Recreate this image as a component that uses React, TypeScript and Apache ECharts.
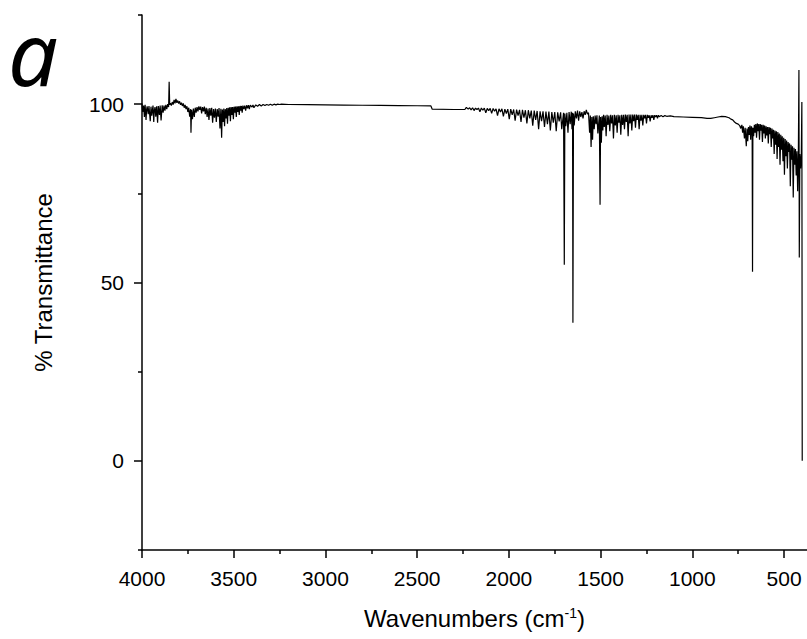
import React, { useEffect, useRef } from "react";
import * as echarts from "echarts";

const FONT = '"Liberation Sans", Arial, sans-serif';

// Wavenumber tick values (cm-1)
const xMajorTicks = [500, 1000, 1500, 2000, 2500, 3000, 3500, 4000];
const xMinorTicks = [750, 1250, 1750, 2250, 2750, 3250, 3750];
const yMajorTicks = [0, 50, 100];
const yMinorTicks = [-25, 25, 75, 125];

// Spectrum: [wavenumber, % transmittance]
const regionOH: [number, number][] = [
  [4000, 100.2], [3996, 97.8], [3991, 99.6], [3987, 96.4], [3983, 99.8], [3978, 95.6],
  [3975, 98.4], [3972, 99.4], [3966, 97.2], [3962, 99.5], [3955, 95.2], [3951, 99.3],
  [3947, 96.8], [3940, 99.6], [3936, 95.0], [3933, 98.2], [3929, 99.2], [3925, 96.5],
  [3920, 99.4], [3915, 94.8], [3911, 99.5], [3905, 97.0], [3901, 99.6], [3896, 95.4],
  [3890, 99.7], [3885, 97.6], [3880, 99.6], [3875, 98.2], [3870, 99.8], [3865, 98.6],
  [3860, 100.0], [3855, 99.2], [3852, 106.3], [3849, 99.8], [3845, 100.3], [3840, 99.6],
  [3835, 100.6], [3830, 99.9], [3825, 101.2], [3820, 100.2], [3815, 101.5], [3810, 100.4],
  [3805, 101.0], [3800, 100.2], [3795, 100.8], [3790, 99.8], [3785, 100.4], [3780, 99.5],
  [3775, 100.2], [3770, 99.0], [3765, 99.8], [3760, 98.6], [3755, 99.4], [3750, 97.8],
  [3745, 99.0], [3740, 96.5], [3735, 98.6], [3733, 92.0], [3730, 98.4], [3725, 95.8],
  [3720, 98.8], [3715, 96.4], [3710, 99.0], [3705, 97.6], [3700, 99.2], [3695, 98.0],
  [3690, 99.4], [3685, 98.4], [3680, 99.3], [3675, 97.4], [3670, 99.2], [3665, 98.0],
  [3660, 99.3], [3655, 97.2], [3650, 99.0], [3645, 96.4], [3640, 98.8], [3635, 95.6],
  [3630, 98.9], [3625, 96.8], [3620, 99.0], [3615, 94.8], [3610, 98.6], [3605, 96.2],
  [3600, 98.8], [3595, 95.0], [3590, 98.6], [3585, 96.5], [3580, 98.9], [3575, 93.2],
  [3570, 98.7], [3566, 90.6], [3562, 98.5], [3558, 95.0], [3554, 98.8], [3550, 93.8],
  [3546, 98.6], [3542, 96.0], [3538, 98.9], [3534, 94.5], [3530, 99.0], [3526, 96.8],
  [3522, 99.1], [3518, 95.2], [3514, 99.2], [3510, 97.0], [3506, 99.2], [3502, 95.8],
  [3498, 99.3], [3494, 97.6], [3490, 99.3], [3486, 96.4], [3482, 99.4], [3478, 97.8],
  [3474, 99.4], [3470, 97.0], [3466, 99.5], [3462, 98.2], [3458, 99.5], [3454, 97.6],
  [3450, 99.6], [3445, 98.6], [3440, 99.6], [3435, 98.2], [3430, 99.7], [3425, 98.8],
  [3420, 99.7], [3415, 98.6], [3410, 99.7], [3400, 99.2], [3395, 99.8], [3390, 99.0],
  [3380, 99.8], [3370, 99.4], [3360, 99.9], [3350, 99.5], [3340, 99.9], [3330, 99.6],
  [3320, 99.9], [3310, 99.7], [3300, 100.0], [3290, 99.7], [3280, 100.0], [3270, 99.8],
  [3260, 100.0], [3250, 99.9], [3240, 100.0],
];

const regionFlat: [number, number][] = [
  [3200, 99.9], [3100, 99.85], [3000, 99.8], [2900, 99.75], [2800, 99.7], [2700, 99.65],
  [2600, 99.6], [2500, 99.55], [2425, 99.5], [2418, 98.6], [2300, 98.5], [2240, 98.5],
];

const regionCarbonyl: [number, number][] = [
  [2232, 99.1], [2222, 98.6], [2214, 99.0], [2206, 98.4], [2198, 99.0], [2190, 98.2],
  [2182, 98.9], [2174, 98.5], [2166, 98.9], [2158, 97.9], [2150, 98.9], [2142, 98.3],
  [2134, 98.9], [2126, 97.6], [2118, 98.8], [2110, 98.2], [2102, 98.8], [2094, 97.4],
  [2086, 98.8], [2078, 98.0], [2070, 98.7], [2062, 96.8], [2054, 98.7], [2046, 97.8],
  [2038, 98.7], [2030, 96.6], [2022, 98.6], [2014, 97.4], [2006, 98.6], [1998, 95.8],
  [1990, 98.6], [1982, 97.0], [1974, 98.5], [1966, 95.4], [1958, 98.5], [1950, 96.8],
  [1942, 98.4], [1934, 95.0], [1926, 98.4], [1918, 96.2], [1910, 98.3], [1902, 94.6],
  [1894, 98.3], [1886, 96.0], [1878, 98.2], [1870, 94.0], [1862, 98.2], [1854, 95.6],
  [1846, 98.1], [1838, 93.0], [1830, 98.0], [1822, 95.2], [1814, 98.0], [1806, 93.6],
  [1798, 97.9], [1790, 94.4], [1782, 97.9], [1774, 92.6], [1766, 97.8], [1758, 94.8],
  [1750, 97.8], [1742, 92.4], [1734, 97.7], [1726, 95.2], [1718, 97.7], [1712, 93.0],
  [1702, 97.6], [1698, 55.0], [1695, 97.4], [1690, 93.8], [1684, 97.6], [1678, 92.0],
  [1672, 97.8], [1666, 94.4], [1660, 97.9], [1656, 93.0], [1653, 97.6], [1651, 38.7],
  [1648, 97.4], [1644, 94.0], [1638, 98.0], [1632, 96.0], [1626, 98.2], [1620, 95.4],
  [1614, 98.0], [1608, 96.4], [1602, 97.8], [1596, 96.0], [1590, 98.0], [1584, 97.0],
  [1578, 98.4], [1572, 97.2], [1566, 97.6],
];

const regionFingerprint: [number, number][] = [
  [1560, 92.0], [1556, 96.8], [1552, 88.0], [1548, 96.4], [1544, 90.0], [1540, 96.6],
  [1535, 93.0], [1530, 96.8], [1525, 94.4], [1520, 96.9], [1515, 91.8], [1507, 96.8],
  [1503, 71.8], [1500, 96.4], [1496, 89.2], [1492, 96.6], [1488, 92.6], [1484, 97.0],
  [1480, 93.6], [1475, 96.8], [1470, 91.0], [1465, 97.0], [1460, 94.2], [1455, 96.8],
  [1450, 92.4], [1445, 97.0], [1440, 94.6], [1435, 96.9], [1430, 90.4], [1425, 97.0],
  [1420, 94.0], [1415, 96.9], [1410, 92.0], [1405, 97.0], [1400, 94.8], [1395, 96.9],
  [1390, 91.4], [1385, 97.0], [1380, 94.2], [1375, 97.0], [1370, 93.0], [1365, 97.1],
  [1360, 95.0], [1355, 97.0], [1350, 91.0], [1345, 97.1], [1340, 94.6], [1335, 97.1],
  [1330, 92.6], [1325, 97.1], [1320, 95.2], [1315, 97.1], [1310, 93.4], [1305, 97.1],
  [1300, 95.6], [1295, 97.0], [1290, 93.0], [1285, 97.0], [1280, 95.4], [1275, 97.0],
  [1270, 94.0], [1265, 97.0], [1260, 96.0], [1255, 97.0], [1250, 94.6], [1245, 97.0],
  [1240, 96.2], [1235, 96.9], [1230, 95.2], [1225, 96.9], [1220, 96.2], [1215, 96.9],
  [1210, 95.6], [1205, 96.9], [1200, 96.4], [1195, 96.9], [1190, 96.0], [1185, 96.9],
  [1180, 96.5], [1170, 96.8], [1160, 96.5], [1150, 96.8], [1140, 96.6], [1120, 96.7],
  [1100, 96.5], [1050, 96.4], [1000, 96.3], [950, 96.2], [920, 96.0], [900, 96.0],
  [880, 96.2], [860, 96.4], [840, 96.6], [820, 96.5], [800, 96.2], [790, 95.8],
  [780, 95.6], [770, 95.0], [760, 94.6], [750, 94.4],
];

const regionLowWn: [number, number][] = [
  [742, 94.0], [736, 93.2], [730, 94.2], [726, 92.0], [722, 93.8], [716, 90.4],
  [712, 93.4], [706, 88.2], [702, 93.2], [698, 89.6], [694, 93.6], [690, 91.4],
  [686, 94.0], [682, 90.0], [678, 93.8], [674, 92.8], [672, 53.0], [670, 93.4],
  [666, 91.0], [662, 94.2], [658, 92.0], [654, 94.4], [650, 90.6], [646, 94.6],
  [642, 92.4], [638, 94.4], [634, 90.0], [630, 94.4], [626, 92.6], [622, 94.2],
  [618, 89.4], [614, 94.2], [610, 91.8], [606, 94.0], [602, 90.4], [598, 93.8],
  [594, 91.2], [590, 93.6], [586, 89.0], [582, 93.6], [578, 91.6], [574, 93.4],
  [570, 88.0], [566, 93.2], [562, 90.4], [558, 92.8], [554, 86.0], [550, 92.6],
  [546, 88.6], [542, 92.4], [538, 84.6], [534, 92.2], [530, 88.0], [526, 91.8],
  [522, 83.0], [518, 91.4], [514, 87.2], [510, 91.0], [506, 84.0], [502, 90.6],
  [498, 80.2], [494, 90.2], [490, 85.4], [486, 89.8], [482, 82.0], [478, 89.4],
  [474, 86.6], [470, 89.0], [466, 77.0], [462, 88.6], [458, 84.4], [454, 88.2],
  [450, 73.8], [446, 87.8], [442, 83.0], [438, 87.4], [434, 80.0], [430, 86.8],
  [426, 75.6], [422, 86.4], [419, 109.6], [417, 57.0], [414, 86.0], [410, 82.0],
  [406, 85.8], [403, 100.6], [401, 0.0],
];

const spectrum = [
  ...regionOH,
  ...regionFlat,
  ...regionCarbonyl,
  ...regionFingerprint,
  ...regionLowWn,
];

export default function App() {
  const ref = useRef<HTMLDivElement>(null);

  useEffect(() => {
    if (!ref.current) return;
    const chart = echarts.init(ref.current, null, { renderer: "svg" });
    const axisLine = { show: true, onZero: false, lineStyle: { color: "#000", width: 1.5 } };
    const plain = (v: number) => String(v);
    chart.setOption({
      animation: false,
      backgroundColor: "#fff",
      grid: { left: 142, right: 0, top: 15, bottom: 89, containLabel: false },
      title: {
        text: "a",
        left: 8,
        top: 8,
        padding: 0,
        textStyle: {
          fontStyle: "italic",
          fontWeight: "normal",
          fontSize: 88,
          lineHeight: 88,
          fontFamily: '"Noto Sans", "Open Sans", sans-serif',
          color: "#000",
        },
      },
      xAxis: [
        {
          type: "value",
          min: 375,
          max: 4000,
          inverse: true,
          position: "bottom",
          axisLine,
          splitLine: { show: false },
          axisTick: {
            show: true,
            customValues: xMajorTicks,
            length: 8,
            inside: false,
            lineStyle: { color: "#000", width: 1.5 },
          },
          axisLabel: {
            customValues: xMajorTicks,
            formatter: plain,
            margin: 18,
            fontSize: 21,
            color: "#000",
            fontFamily: FONT,
          },
          name: "{a|Wavenumbers (cm}{s|-1}{a|)}",
          nameLocation: "middle",
          nameGap: 56,
          nameTextStyle: {
            fontSize: 24,
            fontFamily: FONT,
            color: "#000",
            rich: {
              a: { fontSize: 24, fontFamily: FONT, color: "#000" },
              s: { fontSize: 14, fontFamily: FONT, color: "#000", verticalAlign: "top" },
            },
          },
        },
        {
          type: "value",
          min: 375,
          max: 4000,
          inverse: true,
          position: "bottom",
          axisLine: { show: false, onZero: false },
          splitLine: { show: false },
          axisTick: {
            show: true,
            customValues: xMinorTicks,
            length: 4,
            lineStyle: { color: "#000", width: 1.5 },
          },
          axisLabel: { show: false },
        },
      ],
      yAxis: [
        {
          type: "value",
          min: -25,
          max: 125,
          position: "left",
          axisLine,
          splitLine: { show: false },
          axisTick: {
            show: true,
            customValues: yMajorTicks,
            length: 8,
            lineStyle: { color: "#000", width: 1.5 },
          },
          axisLabel: {
            customValues: yMajorTicks,
            formatter: plain,
            margin: 18,
            fontSize: 21,
            color: "#000",
            fontFamily: FONT,
          },
          name: "% Transmittance",
          nameLocation: "middle",
          nameGap: 87,
          nameTextStyle: { fontSize: 24, fontFamily: FONT, color: "#000" },
        },
        {
          type: "value",
          min: -25,
          max: 125,
          position: "left",
          axisLine: { show: false, onZero: false },
          splitLine: { show: false },
          axisTick: {
            show: true,
            customValues: yMinorTicks,
            length: 4,
            lineStyle: { color: "#000", width: 1.5 },
          },
          axisLabel: { show: false },
        },
      ],
      series: [
        {
          type: "line",
          xAxisIndex: 0,
          yAxisIndex: 0,
          data: spectrum,
          showSymbol: false,
          symbol: "none",
          lineStyle: { color: "#000", width: 1.2 },
          silent: true,
        },
      ],
    });
    return () => chart.dispose();
  }, []);

  return (
    <div
      ref={ref}
      style={{ position: "fixed", left: 0, top: 0, width: 807, height: 639, background: "#fff" }}
    />
  );
}
